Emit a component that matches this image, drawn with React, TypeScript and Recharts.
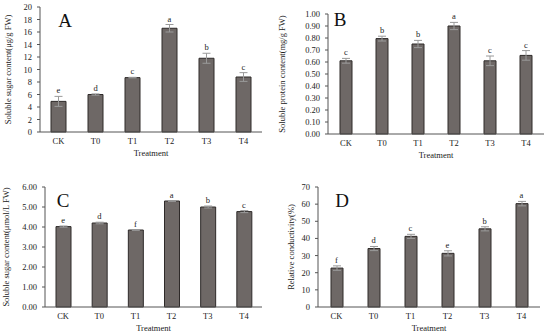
import { ComposedChart, Bar, Line, XAxis, YAxis, ErrorBar, LabelList } from 'recharts';

const treatments = ['CK', 'T0', 'T1', 'T2', 'T3', 'T4'];

// A - soluble sugar (ug/g FW)
const sugarA = [4.9, 6.0, 8.7, 16.6, 11.8, 8.8];
const sugarAErr = [0.8, 0.1, 0.05, 0.6, 0.8, 0.7];
const sugarASig = ['e', 'd', 'c', 'a', 'b', 'c'];
const ticksA = [0, 2, 4, 6, 8, 10, 12, 14, 16, 18, 20];

// B - soluble protein (mg/g FW)
const proteinB = [0.61, 0.795, 0.75, 0.9, 0.61, 0.655];
const proteinBErr = [0.02, 0.02, 0.03, 0.03, 0.04, 0.04];
const proteinBSig = ['c', 'b', 'b', 'a', 'c', 'c'];
const ticksB = [0, 0.1, 0.2, 0.3, 0.4, 0.5, 0.6, 0.7, 0.8, 0.9, 1.0];

// C - soluble sugar (umol/L FW)
const sugarC = [4.02, 4.2, 3.85, 5.3, 5.0, 4.77];
const sugarCErr = [0.03, 0.04, 0.02, 0.02, 0.05, 0.05];
const sugarCSig = ['e', 'd', 'f', 'a', 'b', 'c'];
const ticksC = [0, 1, 2, 3, 4, 5, 6];

// D - relative conductivity (%)
const condD = [22.7, 34.1, 41.2, 31.3, 45.6, 60.3];
const condDErr = [1.3, 1.2, 1.2, 1.5, 1.2, 1.3];
const condDSig = ['f', 'd', 'c', 'e', 'b', 'a'];
const ticksD = [0, 10, 20, 30, 40, 50, 60, 70];

const FONT = '"Liberation Serif", "Times New Roman", serif';
const AXIS = '#555';

const YLabel = ({ viewBox, text, dx }: any) => {
  const x = viewBox.x + dx;
  const y = viewBox.y + viewBox.height / 2;
  return (
    <text x={x} y={y} transform={`rotate(-90 ${x} ${y})`} textAnchor="middle" dominantBaseline="central"
      fontSize={8.5} fontFamily={FONT} fill="#222">
      {text}
    </text>
  );
};

const XLabel = ({ viewBox }: any) => (
  <text x={viewBox.x + viewBox.width / 2} y={viewBox.y + 21} textAnchor="middle" dominantBaseline="central"
    fontSize={8.5} fontFamily={FONT} fill="#222">
    Treatment
  </text>
);

const Panel = ({ values, errors, sigs, ticks, digits, yLabel, letter, box }: any) => {
  const data = treatments.map((t, i) => ({
    name: t,
    value: values[i],
    err: errors[i],
    top: values[i] + errors[i],
    sig: sigs[i],
  }));
  return (
    <div style={{ position: 'absolute', left: box.left, top: box.top, width: box.width, height: box.height }}>
      <ComposedChart width={box.width} height={box.height} data={data} margin={box.margin}>
        <XAxis dataKey="name" height={box.xh} tickLine={false} tickSize={3} tickMargin={3}
          axisLine={{ stroke: AXIS }} tick={{ fontSize: 8.5, fontFamily: FONT, fill: '#222' }}
          label={<XLabel />} />
        <YAxis width={box.yw} domain={[ticks[0], ticks[ticks.length - 1]]} ticks={ticks} interval={0}
          tickFormatter={(v: number) => v.toFixed(digits)} tickSize={3} tickMargin={5}
          axisLine={{ stroke: AXIS }} tickLine={{ stroke: AXIS }}
          tick={{ fontSize: 8.5, fontFamily: FONT, fill: '#222' }}
          label={<YLabel text={yLabel} dx={box.ylx} />} />
        <Bar dataKey="value" fill="#6e6866" stroke="#2e2a29" strokeWidth={1} barSize={box.bar} isAnimationActive={false}>
          <ErrorBar dataKey="err" width={4} stroke="#9a9a9a" strokeWidth={1} isAnimationActive={false} />
        </Bar>
        <Line dataKey="top" stroke="none" dot={false} activeDot={false} isAnimationActive={false}>
          <LabelList dataKey="sig" position="top" offset={3} fontSize={8.5} fontFamily={FONT} fill="#222" />
        </Line>
      </ComposedChart>
      <div style={{ position: 'absolute', left: box.lx - 15, top: box.ly, width: 30, textAlign: 'center',
        fontFamily: FONT, fontSize: 19, lineHeight: 1, color: '#111' }}>
        {letter}
      </div>
    </div>
  );
};

export default function App() {
  return (
    <div style={{ position: 'absolute', left: 0, top: 0, width: 550, height: 333, background: '#fff' }}>
      <Panel values={sugarA} errors={sugarAErr} sigs={sugarASig} ticks={ticksA} digits={0}
        yLabel="Soluble sugar content(μg/g FW)" letter="A"
        box={{ left: 0, top: 0, width: 275, height: 165, margin: { top: 7, right: 13, left: 0, bottom: 3 },
          xh: 30, yw: 40, ylx: 8, bar: 15, lx: 65, ly: 11 }} />
      <Panel values={proteinB} errors={proteinBErr} sigs={proteinBSig} ticks={ticksB} digits={2}
        yLabel="Soluble protein content(mg/g FW)" letter="B"
        box={{ left: 275, top: 0, width: 275, height: 165, margin: { top: 14, right: 6, left: 0, bottom: 1 },
          xh: 30, yw: 53, ylx: 7, bar: 12, lx: 65, ly: 10 }} />
      <Panel values={sugarC} errors={sugarCErr} sigs={sugarCSig} ticks={ticksC} digits={2}
        yLabel="Soluble sugar content(μmol/L FW)" letter="C"
        box={{ left: 0, top: 165, width: 275, height: 168, margin: { top: 22, right: 13, left: 0, bottom: 0 },
          xh: 26, yw: 45, ylx: 6, bar: 15, lx: 63, ly: 26 }} />
      <Panel values={condD} errors={condDErr} sigs={condDSig} ticks={ticksD} digits={0}
        yLabel="Relative conductivity(%)" letter="D"
        box={{ left: 275, top: 165, width: 275, height: 168, margin: { top: 22, right: 10, left: 0, bottom: 0 },
          xh: 26, yw: 43, ylx: 16, bar: 12, lx: 67, ly: 26 }} />
    </div>
  );
}
